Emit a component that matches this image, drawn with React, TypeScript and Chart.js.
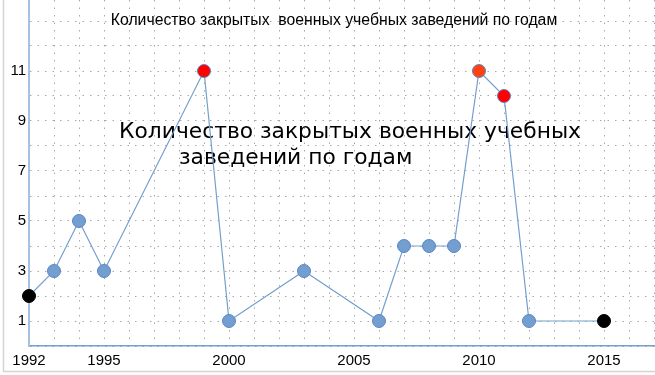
import React, { useEffect, useRef } from "react";
import { Chart, registerables } from "chart.js";

Chart.register(...registerables);

const years = [1992, 1993, 1994, 1995, 1999, 2000, 2003, 2006, 2007, 2008, 2009, 2010, 2011, 2012, 2015];
const closedCounts = [2, 3, 5, 3, 11, 1, 3, 1, 4, 4, 4, 11, 10, 1, 1];
const xTickLabels = [1992, 1995, 2000, 2005, 2010, 2015];
const yTickLabels = [1, 3, 5, 7, 9, 11];

const titleText = "Количество закрытых  военных учебных заведений по годам";
const overlayLines = ["Количество закрытых военных учебных", "заведений по годам"];

const BLUE = "#729fcf";
const pointFill = years.map((y) => {
  if (y === 1992 || y === 2015) return "#000000";
  if (y === 1999 || y === 2011) return "#ff0000";
  if (y === 2010) return "#ff420e";
  return BLUE;
});
const pointBorder = years.map((y) => (y === 1992 || y === 2015 ? "#000000" : "#5b86c5"));

const decorPlugin = {
  id: "decor",
  beforeDraw(chart: any) {
    const ctx = chart.ctx;
    ctx.save();
    ctx.fillStyle = "#ffffff";
    ctx.fillRect(0, 0, chart.width, chart.height);
    ctx.strokeStyle = "#d4d4d4";
    ctx.lineWidth = 1.5;
    ctx.beginPath();
    ctx.moveTo(3.5, 0);
    ctx.lineTo(3.5, 371.5);
    ctx.lineTo(chart.width, 371.5);
    ctx.stroke();
    ctx.restore();
  },
  beforeDatasetsDraw(chart: any) {
    const ctx = chart.ctx;
    ctx.save();
    ctx.fillStyle = "#000000";
    ctx.textBaseline = "middle";
    ctx.textAlign = "center";
    ctx.font = "15.8px 'Liberation Sans', Arial, sans-serif";
    ctx.fillText(titleText, 334, 21);
    ctx.textAlign = "left";
    ctx.textBaseline = "alphabetic";
    ctx.font = "21.8px 'DejaVu Sans', sans-serif";
    ctx.fillText(overlayLines[0], 119, 138);
    ctx.fillText(overlayLines[1], 179, 164);
    ctx.restore();
  },
};

function zeroPad(scale: any) {
  scale.paddingTop = 0;
  scale.paddingBottom = 0;
  scale.paddingLeft = 0;
  scale.paddingRight = 0;
}

export default function App() {
  const ref = useRef<HTMLCanvasElement | null>(null);
  useEffect(() => {
    document.body.style.margin = "0";
    const canvas = ref.current!;
    const chart = new Chart(canvas, {
      type: "line",
      data: {
        datasets: [
          {
            data: years.map((x, i) => ({ x, y: closedCounts[i] })),
            borderColor: BLUE,
            borderWidth: 1.2,
            pointRadius: 6.5,
            pointBorderWidth: 1,
            pointBackgroundColor: pointFill,
            pointBorderColor: pointBorder,
            tension: 0,
            clip: false,
          },
        ],
      },
      options: {
        animation: false,
        responsive: false,
        maintainAspectRatio: false,
        layout: { padding: 0, autoPadding: false },
        plugins: { legend: { display: false }, tooltip: { enabled: false }, title: { display: false } },
        scales: {
          x: {
            type: "linear",
            min: 1992,
            max: 2017.04,
            afterFit(scale: any) {
              scale.height = 29;
              zeroPad(scale);
            },
            grid: { color: "#a8a8a8", lineWidth: 1, drawTicks: false },
            border: { color: BLUE, width: 1.5, dash: [1.5, 6] },
            ticks: {
              stepSize: 1,
              autoSkip: false,
              includeBounds: false,
              maxRotation: 0,
              padding: 6,
              color: "#000000",
              font: { family: "'Liberation Sans', Arial, sans-serif", size: 15 },
              callback: (v: any) => (xTickLabels.includes(Number(v)) ? String(v) : ""),
            },
          },
          y: {
            type: "linear",
            min: 0,
            max: 13.84,
            afterFit(scale: any) {
              scale.width = 29;
              zeroPad(scale);
            },
            grid: { color: "#a8a8a8", lineWidth: 1, drawTicks: false },
            border: { color: "#a7c1e3", width: 2, dash: [1.5, 6] },
            ticks: {
              stepSize: 1,
              autoSkip: false,
              includeBounds: false,
              padding: 3,
              color: "#000000",
              font: { family: "'Liberation Sans', Arial, sans-serif", size: 15 },
              callback: (v: any) => (yTickLabels.includes(Number(v)) ? String(v) : ""),
            },
          },
        },
      },
      plugins: [decorPlugin],
    });
    return () => chart.destroy();
  }, []);
  return <canvas ref={ref} width={655} height={375} style={{ display: "block" }} />;
}
